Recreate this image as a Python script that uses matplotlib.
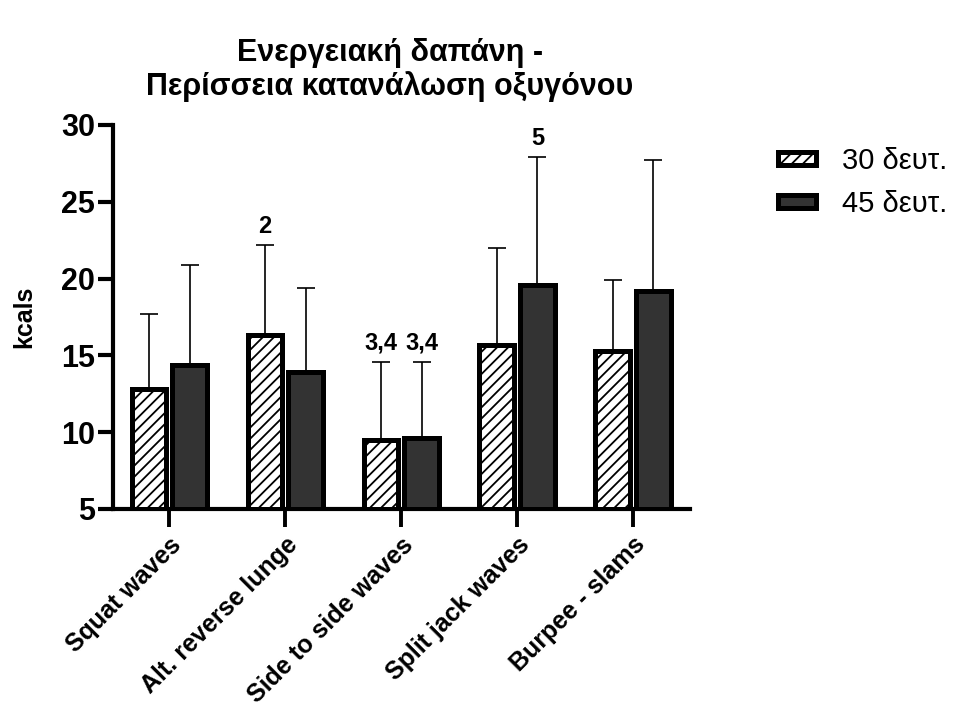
import matplotlib
matplotlib.use("Agg")
import matplotlib.pyplot as plt
import numpy as np
from matplotlib.patches import Patch

plt.rcParams['font.family'] = ['Liberation Sans', 'DejaVu Sans']
plt.rcParams['hatch.linewidth'] = 1.3

categories = ["Squat waves", "Alt. reverse lunge", "Side to side waves",
              "Split jack waves", "Burpee - slams"]
series_names = ["30 δευτ.", "45 δευτ."]
mean_30 = [12.8, 16.3, 9.5, 15.7, 15.3]
sd_30 = [4.9, 5.9, 5.1, 6.3, 4.6]
mean_45 = [14.4, 13.9, 9.6, 19.6, 19.2]
sd_45 = [6.5, 5.5, 5.0, 8.3, 8.5]
annot_30 = ["", "2", "3,4", "", ""]
annot_45 = ["", "", "3,4", "5", ""]
yticks = [5, 10, 15, 20, 25, 30]
title = "Ενεργειακή δαπάνη -\nΠερίσσεια κατανάλωση οξυγόνου"
ylabel = "kcals"

fig = plt.figure(figsize=(9.59, 7.13), dpi=100)
ax = fig.add_axes([113/959, 1-509/713, (690-113)/959, (509-125)/713])

x = np.arange(len(categories))
w = 0.30
off = 0.175
lw_bar = 3.6

ax.bar(x - off, np.array(mean_30) - 5, w, bottom=5, color='white', edgecolor='black',
       hatch='///', linewidth=lw_bar, zorder=3)
ax.bar(x + off, np.array(mean_45) - 5, w, bottom=5, color='#333333', edgecolor='black',
       linewidth=lw_bar, zorder=3)

ax.errorbar(x - off, mean_30, yerr=[np.zeros(5), sd_30], fmt='none', ecolor='black',
            elinewidth=1.2, capsize=6.5, capthick=1.2, zorder=2)
ax.errorbar(x + off, mean_45, yerr=[np.zeros(5), sd_45], fmt='none', ecolor='black',
            elinewidth=1.2, capsize=6.5, capthick=1.2, zorder=2)

for xi, m, s, t in zip(x - off, mean_30, sd_30, annot_30):
    if t:
        ax.annotate(t, (xi, m + s), xytext=(0, 5), textcoords='offset points',
                    ha='center', va='bottom', fontsize=17, fontweight='bold')
for xi, m, s, t in zip(x + off, mean_45, sd_45, annot_45):
    if t:
        ax.annotate(t, (xi, m + s), xytext=(0, 5), textcoords='offset points',
                    ha='center', va='bottom', fontsize=17, fontweight='bold')

ax.set_xlim(-0.485, 4.49)
ax.set_ylim(5, 30)
ax.set_yticks(yticks)
ax.set_yticklabels([str(v) for v in yticks], fontsize=22, fontweight='bold')
ax.set_xticks(x)
ax.set_xticklabels(categories, rotation=45, ha='right', rotation_mode='anchor',
                   fontsize=18, fontweight='bold')
ax.tick_params(axis='y', length=11, width=3, pad=2)
ax.tick_params(axis='x', length=13, width=2.8, pad=4)
for side in ['top', 'right']:
    ax.spines[side].set_visible(False)
for side in ['left', 'bottom']:
    ax.spines[side].set_linewidth(3)
ax.set_ylabel(ylabel, fontsize=18, fontweight='bold', labelpad=18)

fig.text(390/959, 1-70/713, title, ha='center', va='center', fontsize=22,
         fontweight='bold', linespacing=1.15)

handles = [Patch(facecolor='white', edgecolor='black', hatch='///', linewidth=lw_bar),
           Patch(facecolor='#333333', edgecolor='black', linewidth=lw_bar)]
fig.legend(handles, series_names, loc='upper left', bbox_to_anchor=(752/959, 1-121/713),
           frameon=False, fontsize=21, handlelength=1.3, handleheight=0.3,
           handletextpad=0.9, labelspacing=0.5)

fig.savefig("out.png", dpi=100)
